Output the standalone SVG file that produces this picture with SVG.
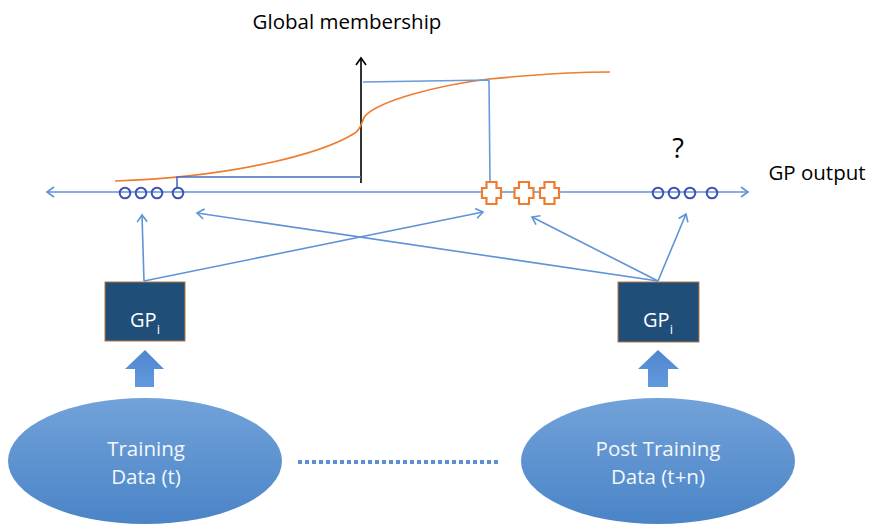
<svg xmlns="http://www.w3.org/2000/svg" width="870" height="525" viewBox="0 0 870 525">
  <style>
    text { font-family: "Open Sans", "Liberation Sans", sans-serif; }
    .label { fill: #000000; }
    .light { fill: #f4f7fb; font-size: 20.5px; text-anchor: middle; }
    .gp { fill: #ffffff; font-size: 20px; text-anchor: middle; }
    .conn { fill: none; stroke: #5f93d8; stroke-width: 1.6; }
    .mark { fill: none; stroke: #3f51b5; stroke-width: 2; }
    .cross { fill: #ffffff; stroke: #ed7d31; stroke-width: 2.2; }
    .box { fill: #1f4e79; stroke: #b9773f; stroke-width: 1; }
  </style>
  <defs>
    <marker id="head" viewBox="-8 -6 10 12" markerWidth="10" markerHeight="12" refX="0" refY="0" orient="auto-start-reverse" markerUnits="userSpaceOnUse">
      <path d="M-7,-5 L0,0 L-7,5" fill="none" stroke="#5f93d8" stroke-width="1.6"/>
    </marker>
    <marker id="headBlack" viewBox="-8 -6 10 12" markerWidth="10" markerHeight="12" refX="0" refY="0" orient="auto" markerUnits="userSpaceOnUse">
      <path d="M-7,-5 L0,0 L-7,5" fill="none" stroke="#000000" stroke-width="1.6"/>
    </marker>
    <linearGradient id="dataFill" x1="0" y1="0" x2="0" y2="1">
      <stop offset="0" stop-color="#72a2d9"/>
      <stop offset="1" stop-color="#4a84c7"/>
    </linearGradient>
    <linearGradient id="arrowFill" x1="0" y1="0" x2="0" y2="1">
      <stop offset="0" stop-color="#4f86cf"/>
      <stop offset="1" stop-color="#6399dc"/>
    </linearGradient>
    <path id="plus" d="M-5,-11 H5 V-5 H9.5 V5 H5 V11 H-5 V5 H-9.5 V-5 H-5 Z"/>
  </defs>

  <!-- titles -->
  <text class="label" x="347" y="29" font-size="20.5" text-anchor="middle">Global membership</text>
  <text class="label" x="817" y="180" font-size="20.5" text-anchor="middle">GP output</text>
  <text class="label" x="678" y="158" font-size="27" text-anchor="middle">?</text>

  <!-- membership plot -->
  <g id="membership">
    <line x1="361" y1="183" x2="361" y2="58" stroke="#000000" stroke-width="1.6" marker-end="url(#headBlack)"/>
    <path d="M115,181 C230,177 320,155 355,133 C362,128 361,122 365,116 C380,100 440,85 489,79 C530,75 570,72 610,72" fill="none" stroke="#ed7d31" stroke-width="1.7"/>
    <path d="M177,188 V177 H361" fill="none" stroke="#4a6cc4" stroke-width="1.6"/>
    <path d="M363,82 L489,80 L490,182" fill="none" stroke="#6a9ad8" stroke-width="1.6"/>
  </g>

  <!-- connectors -->
  <g id="connectors">
    <line class="conn" x1="47" y1="192" x2="748" y2="192" marker-start="url(#head)" marker-end="url(#head)"/>
    <line class="conn" x1="144" y1="281" x2="142" y2="215" marker-end="url(#head)"/>
    <line class="conn" x1="144" y1="281" x2="483" y2="212" marker-end="url(#head)"/>
    <line class="conn" x1="658" y1="281" x2="197" y2="213" marker-end="url(#head)"/>
    <line class="conn" x1="658" y1="281" x2="532" y2="217" marker-end="url(#head)"/>
    <line class="conn" x1="658" y1="281" x2="686" y2="214" marker-end="url(#head)"/>
    <line x1="298" y1="462" x2="498" y2="462" stroke="#5b8fd6" stroke-width="4" stroke-dasharray="4 3"/>
  </g>

  <!-- GP outputs on the axis -->
  <g id="outputs-train">
    <circle class="mark" cx="125" cy="193" r="5.3"/>
    <circle class="mark" cx="141" cy="193" r="5.3"/>
    <circle class="mark" cx="157" cy="193" r="5.3"/>
    <circle class="mark" cx="178" cy="193" r="5.3"/>
  </g>
  <g id="outputs-cross">
    <use href="#plus" class="cross" x="491.5" y="193"/>
    <use href="#plus" class="cross" x="524" y="193"/>
    <use href="#plus" class="cross" x="549.5" y="193"/>
  </g>
  <g id="outputs-post">
    <circle class="mark" cx="658" cy="193" r="5.3"/>
    <circle class="mark" cx="674" cy="193" r="5.3"/>
    <circle class="mark" cx="690" cy="193" r="5.3"/>
    <circle class="mark" cx="712" cy="193" r="5.3"/>
  </g>

  <!-- GP models -->
  <g id="gp-left">
    <rect class="box" x="105" y="282" width="80" height="59"/>
    <text class="gp" x="145" y="327">GP<tspan font-size="13" dy="7">i</tspan></text>
  </g>
  <g id="gp-right">
    <rect class="box" x="618" y="282" width="81" height="60"/>
    <text class="gp" x="658" y="327">GP<tspan font-size="13" dy="7">i</tspan></text>
  </g>

  <!-- block arrows feeding the models -->
  <g id="feed-left">
    <path fill="url(#arrowFill)" d="M145,350 L164,369 H154 V387 H135 V369 H125 Z"/>
  </g>
  <g id="feed-right">
    <path fill="url(#arrowFill)" d="M658,350 L679,369 H668 V387 H648 V369 H638 Z"/>
  </g>

  <!-- data sets -->
  <g id="data-train">
    <ellipse cx="145" cy="461" rx="137" ry="63" fill="url(#dataFill)"/>
    <text class="light" x="146" y="456">Training</text>
    <text class="light" x="146" y="484">Data (t)</text>
  </g>
  <g id="data-post">
    <ellipse cx="658" cy="461" rx="137" ry="63" fill="url(#dataFill)"/>
    <text class="light" x="658" y="456">Post Training</text>
    <text class="light" x="658" y="484">Data (t+n)</text>
  </g>
</svg>
